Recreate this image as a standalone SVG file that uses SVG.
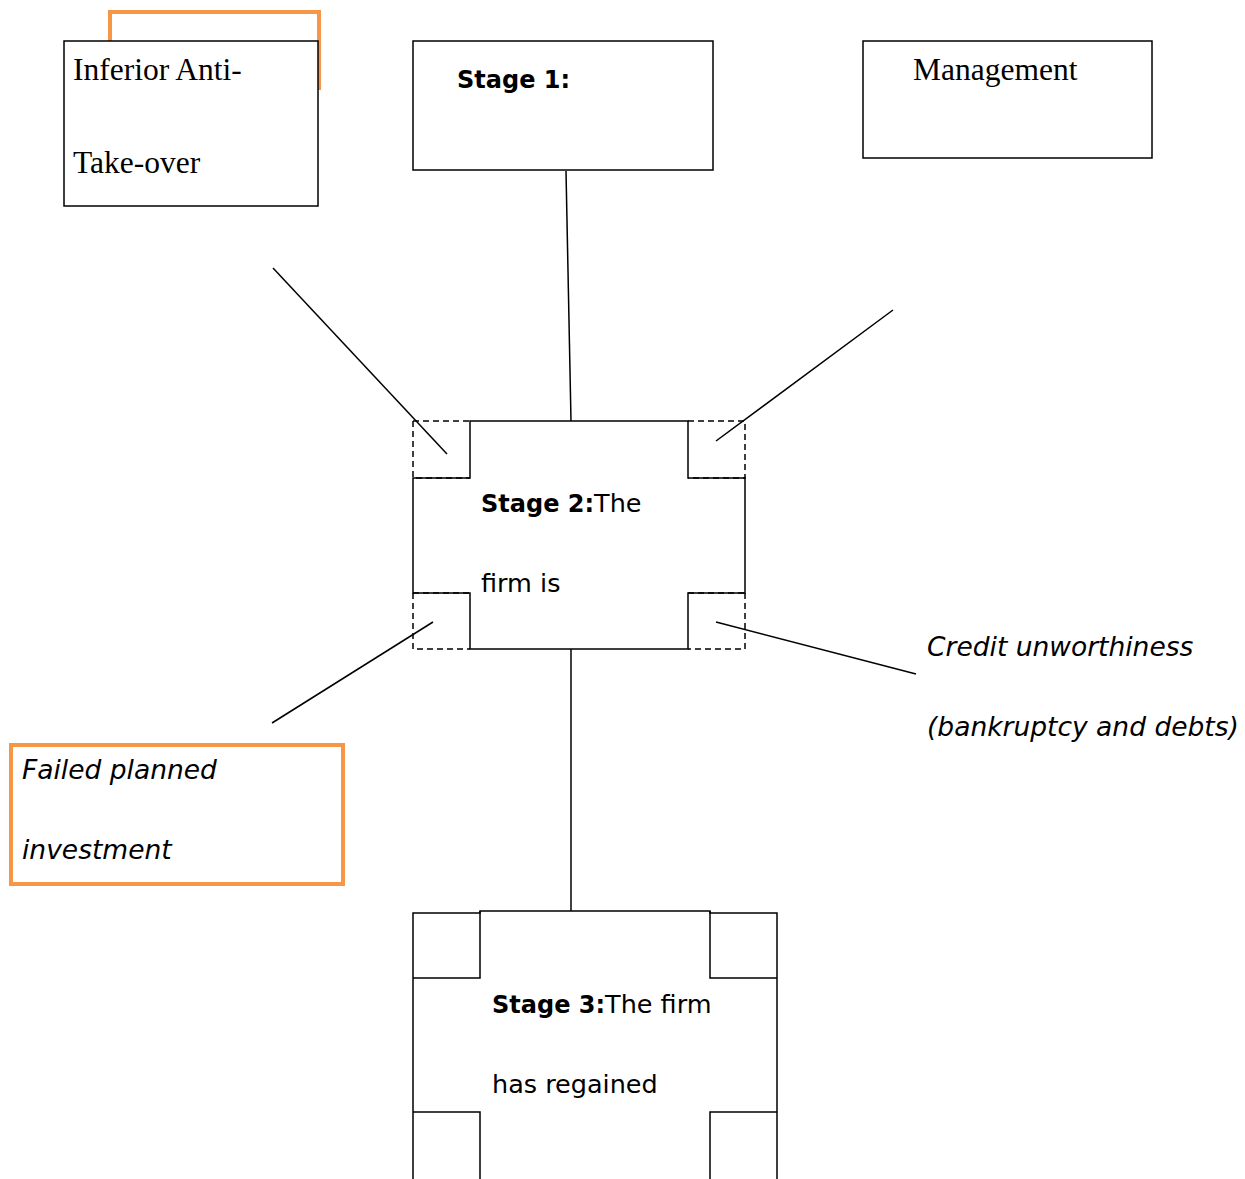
<svg xmlns="http://www.w3.org/2000/svg" width="1245" height="1179" viewBox="0 0 1245 1179">
<style>
.box{fill:#fff;stroke:#000;stroke-width:1.5}
.orange{fill:#fff;stroke:#f79646;stroke-width:4}
.ln{stroke:#000;stroke-width:1.5;fill:none}
.dash{stroke:#000;stroke-width:1.5;fill:none;stroke-dasharray:6 4}
.serif{font-family:"Liberation Serif","Times New Roman",serif;font-size:31.5px;fill:#000}
.sans{font-family:"DejaVu Sans","Noto Sans",sans-serif;font-size:25.5px;fill:#000}
.b{font-weight:bold;font-size:24px}
.i{font-style:italic;font-size:26.5px}
</style>
<rect width="1245" height="1179" fill="#fff"/>
<g id="connectors">
<line class="ln" x1="273" y1="268" x2="447" y2="454"/>
<line class="ln" x1="566" y1="171" x2="571" y2="421"/>
<line class="ln" x1="893" y1="310" x2="716" y2="441"/>
<line class="ln" x1="272" y1="723" x2="433" y2="622"/>
<line class="ln" x1="716" y1="622" x2="916" y2="674"/>
<line class="ln" x1="571" y1="649" x2="571" y2="911"/>
</g>
<g id="node-inferior">
<rect class="orange" x="110" y="12" width="209" height="76"/>
<rect class="box" x="64" y="41" width="254" height="165"/>
<text class="serif" x="73" y="80">Inferior Anti-</text>
<text class="serif" x="73" y="173">Take-over</text>
</g>
<g id="node-stage1">
<rect class="box" x="413" y="41" width="300" height="129"/>
<text class="sans b" x="457" y="88">Stage 1:</text>
</g>
<g id="node-management">
<rect class="box" x="863" y="41" width="289" height="117"/>
<text class="serif" x="913" y="80">Management</text>
</g>
<g id="node-stage2">
<path class="dash" d="M413 421H470M413 421V478H470M688 421H745V478H688M413 593V649H470M745 593V649H688M413 593H470M688 593H745"/>
<path class="ln" d="M470 421H688V478H745V593H688V649H470V593H413V478H470Z"/>
<text class="sans" x="481" y="512"><tspan class="b">Stage 2:</tspan>The</text>
<text class="sans" x="481" y="592">firm is</text>
</g>
<g id="node-failed">
<rect class="orange" x="11" y="745" width="332" height="139"/>
<text class="sans i" x="22" y="779">Failed planned</text>
<text class="sans i" x="22" y="859">investment</text>
</g>
<g id="node-credit">
<text class="sans i" x="927" y="656">Credit unworthiness</text>
<text class="sans i" x="927" y="736">(bankruptcy and debts)</text>
</g>
<g id="node-stage3">
<path class="ln" d="M413 1179V913H480V911H710V913H777V1179"/>
<path class="ln" d="M413 978H480V911M777 978H710V911M413 1112H480V1179M777 1112H710V1179"/>
<text class="sans" x="492" y="1013"><tspan class="b">Stage 3:</tspan>The firm</text>
<text class="sans" x="492" y="1093">has regained</text>
</g>
</svg>
